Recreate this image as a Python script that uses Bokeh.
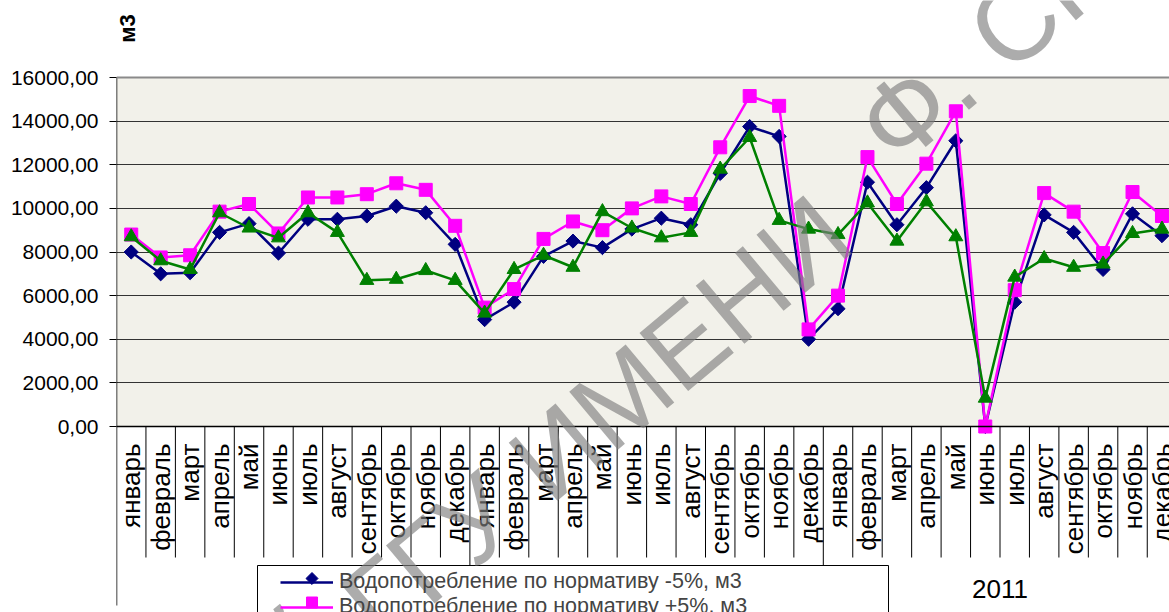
import math
from bokeh.plotting import figure
from bokeh.models import FixedTicker, Legend, LegendItem, Label, Range1d, Span
from bokeh.core.properties import value
from bokeh.embed import file_html
from bokeh.resources import INLINE

# ---------------- data ----------------
months = ["январь", "февраль", "март", "апрель", "май", "июнь",
          "июль", "август", "сентябрь", "октябрь", "ноябрь", "декабрь"]
years = ["2009", "2010", "2011"]
categories = months * len(years)

minus5 = [8000, 7000, 7050, 8900, 9300, 7950, 9500, 9500, 9650, 10100, 9800, 8350,
          4900, 5700, 7800, 8500, 8200, 9050, 9550, 9250, 11600, 13750, 13300, 4000,
          5400, 11200, 9250, 10950, 13100, 0, 5700, 9700, 8900, 7200, 9750, 8750]
plus5 = [8800, 7750, 7850, 9850, 10200, 8850, 10500, 10500, 10650, 11150, 10850, 9200,
         5450, 6300, 8600, 9400, 9000, 10000, 10550, 10200, 12800, 15150, 14700, 4450,
         6000, 12350, 10200, 12050, 14450, 0, 6250, 10700, 9850, 7950, 10750, 9650]
actual = [8700, 7600, 7200, 9800, 9100, 8650, 9800, 8900, 6700, 6750, 7150, 6700,
          5200, 7200, 7850, 7300, 9850, 9100, 8650, 8900, 11800, 13250, 9450, 9050,
          8800, 10250, 8500, 10300, 8700, 1300, 6850, 7700, 7300, 7450, 8850, 9050]

y_ticks = [0, 2000, 4000, 6000, 8000, 10000, 12000, 14000, 16000]
y_tick_labels = ["0,00", "2000,00", "4000,00", "6000,00", "8000,00",
                 "10000,00", "12000,00", "14000,00", "16000,00"]
legend_labels = ["Водопотребление по нормативу -5%, м3",
                 "Водопотребление по нормативу +5%, м3"]
unit_label = "м3"
watermark_a = "РЕПОЗИТОРИЙ ГГУ ИМЕНИ"
watermark_b = "Ф. СКОРИНЫ"

# ---------------- layout ----------------
W, H = 1169, 612
FRAME_L = 116
PLOT_TOP_PX = 77
Y0_PX = 426
CAT_PX = 29.45
YMAX = 16000
UPP = YMAX / (Y0_PX - PLOT_TOP_PX)          # data units per pixel


def ypx(py):
    return (Y0_PX - py) * UPP


def xpx(px):
    return -0.5 + (px - FRAME_L) / CAT_PX


YMIN = ypx(H)
YTOP = ypx(0)
XMAX = xpx(W)
FONT = "Liberation Sans"

p = figure(width=W, height=H, x_range=Range1d(-0.5, XMAX), y_range=Range1d(YMIN, YTOP),
           output_backend="svg", toolbar_location=None, x_axis_location=None,
           min_border_left=FRAME_L, min_border_top=0,
           min_border_right=0, min_border_bottom=0)
p.outline_line_color = None
p.background_fill_color = "white"
p.border_fill_color = "white"

n = len(categories)
xs = list(range(n))

# plot area background
p.quad(left=[-0.5], right=[n], bottom=[0], top=[YMAX],
       fill_color="#F2F1EA", line_color=None, level="image")

# y axis
ax = p.yaxis[0]
ax.ticker = FixedTicker(ticks=y_ticks, minor_ticks=[])
ax.major_label_overrides = {t: l for t, l in zip(y_ticks, y_tick_labels)}
ax.major_label_text_font = FONT
ax.major_label_text_font_size = "21px"
ax.major_label_text_color = "black"
ax.axis_line_color = None
ax.major_tick_line_color = "black"
ax.major_tick_out = 7
ax.major_tick_in = 0
ax.minor_tick_line_color = None
ax.major_label_standoff = 11

p.ygrid.ticker = FixedTicker(ticks=y_ticks)
p.ygrid.grid_line_color = "#333333"
p.ygrid.grid_line_width = 1
for g in p.xgrid:
    g.visible = False

p.add_layout(Span(location=YMAX, dimension="width", line_color="#8a8a8a", line_width=2))
p.add_layout(Span(location=0, dimension="width", line_color="black", line_width=1.5))

# left axis line (runs down through the category area like the reference)
p.segment(x0=[-0.5], y0=[YMAX], x1=[-0.5], y1=[ypx(605)], line_color="black", line_width=1.5)

# category separators (multi-level axis look)
bounds = [k - 0.5 for k in range(1, n)]
short_b = [b for i, b in enumerate(bounds, start=1) if i % 12 != 0]
year_b = [b for i, b in enumerate(bounds, start=1) if i % 12 == 0]
p.segment(x0=short_b, y0=[0] * len(short_b), x1=short_b, y1=[ypx(557)] * len(short_b),
          line_color="black", line_width=1)
p.segment(x0=year_b, y0=[0] * len(year_b), x1=year_b, y1=[ypx(605)] * len(year_b),
          line_color="black", line_width=1)

# month labels
p.text(x=xs, y=[ypx(443)] * n, text=categories, angle=math.pi / 2,
       text_align="right", text_baseline="middle",
       text_font=value(FONT), text_font_size="26px", text_color="black")

# year labels
year_x = [12 * i + 5.5 for i in range(len(years))]
p.text(x=year_x, y=[ypx(588)] * len(years), text=years,
       text_align="center", text_baseline="middle",
       text_font=value(FONT), text_font_size="26px", text_color="black")

# legend box (drawn as a frame in the category area)
p.quad(left=[xpx(257)], right=[xpx(888)], top=[ypx(565)], bottom=[ypx(660)],
       fill_color="white", line_color="black", line_width=1)

# series
l1 = p.line(xs, minus5, line_color="#000080", line_width=2.5)
s1 = p.scatter(xs, minus5, marker="square", angle=math.pi / 4, size=10,
               fill_color="#000080", line_color="#000080")
l2 = p.line(xs, plus5, line_color="#FF00FF", line_width=2.5)
s2 = p.scatter(xs, plus5, marker="square", size=13,
               fill_color="#FF00FF", line_color="#FF00FF")
l3 = p.line(xs, actual, line_color="#008000", line_width=2.5)
s3 = p.scatter(xs, actual, marker="triangle", size=14,
               fill_color="#008000", line_color="#008000")

# legend key markers (diamond / square at the middle of each key line)
p.scatter(x=[xpx(311.5)], y=[ypx(578)], marker="square", angle=math.pi / 4, size=8.5,
          fill_color="#000080", line_color="#000080")
p.scatter(x=[xpx(311.5)], y=[ypx(602)], marker="square", size=11,
          fill_color="#FF00FF", line_color="#FF00FF")

# watermark
wm_font = 110
ang = math.radians(40)
d = (math.cos(ang), -math.sin(ang))
ax_px, ay_px = 872, 140            # start of "Ф" on the baseline
gap = 0.278 * wm_font
bx_px, by_px = 857 - gap * d[0], 198 - gap * d[1]
for txt, (px_, py_), align in ((watermark_b, (ax_px, ay_px), "left"),
                               (watermark_a, (bx_px, by_px), "right")):
    p.add_layout(Label(x=px_ - FRAME_L, y=H - py_, x_units="screen", y_units="screen",
                       text=txt, angle=ang, text_align=align, text_baseline="alphabetic",
                       text_font=FONT, text_font_size=f"{wm_font}px",
                       text_color="#808080", text_alpha=0.65))

# unit label
p.add_layout(Label(x=127 - FRAME_L, y=H - 28, x_units="screen", y_units="screen",
                   text=unit_label, angle=math.pi / 2, text_align="center",
                   text_baseline="middle", text_font=FONT, text_font_size="22px",
                   text_font_style="bold", text_color="black"))

# legend
legend = Legend(items=[LegendItem(label=legend_labels[0], renderers=[l1]),
                       LegendItem(label=legend_labels[1], renderers=[l2])],
                location=(285 - 5 - FRAME_L, -7),
                label_text_font=FONT, label_text_font_size="21.5px",
                glyph_width=53, glyph_height=24, label_height=24,
                spacing=0, padding=5, margin=0, label_standoff=6,
                border_line_color=None, background_fill_alpha=0.0)
p.add_layout(legend)

open("out.html", "w").write(file_html(p, INLINE))
